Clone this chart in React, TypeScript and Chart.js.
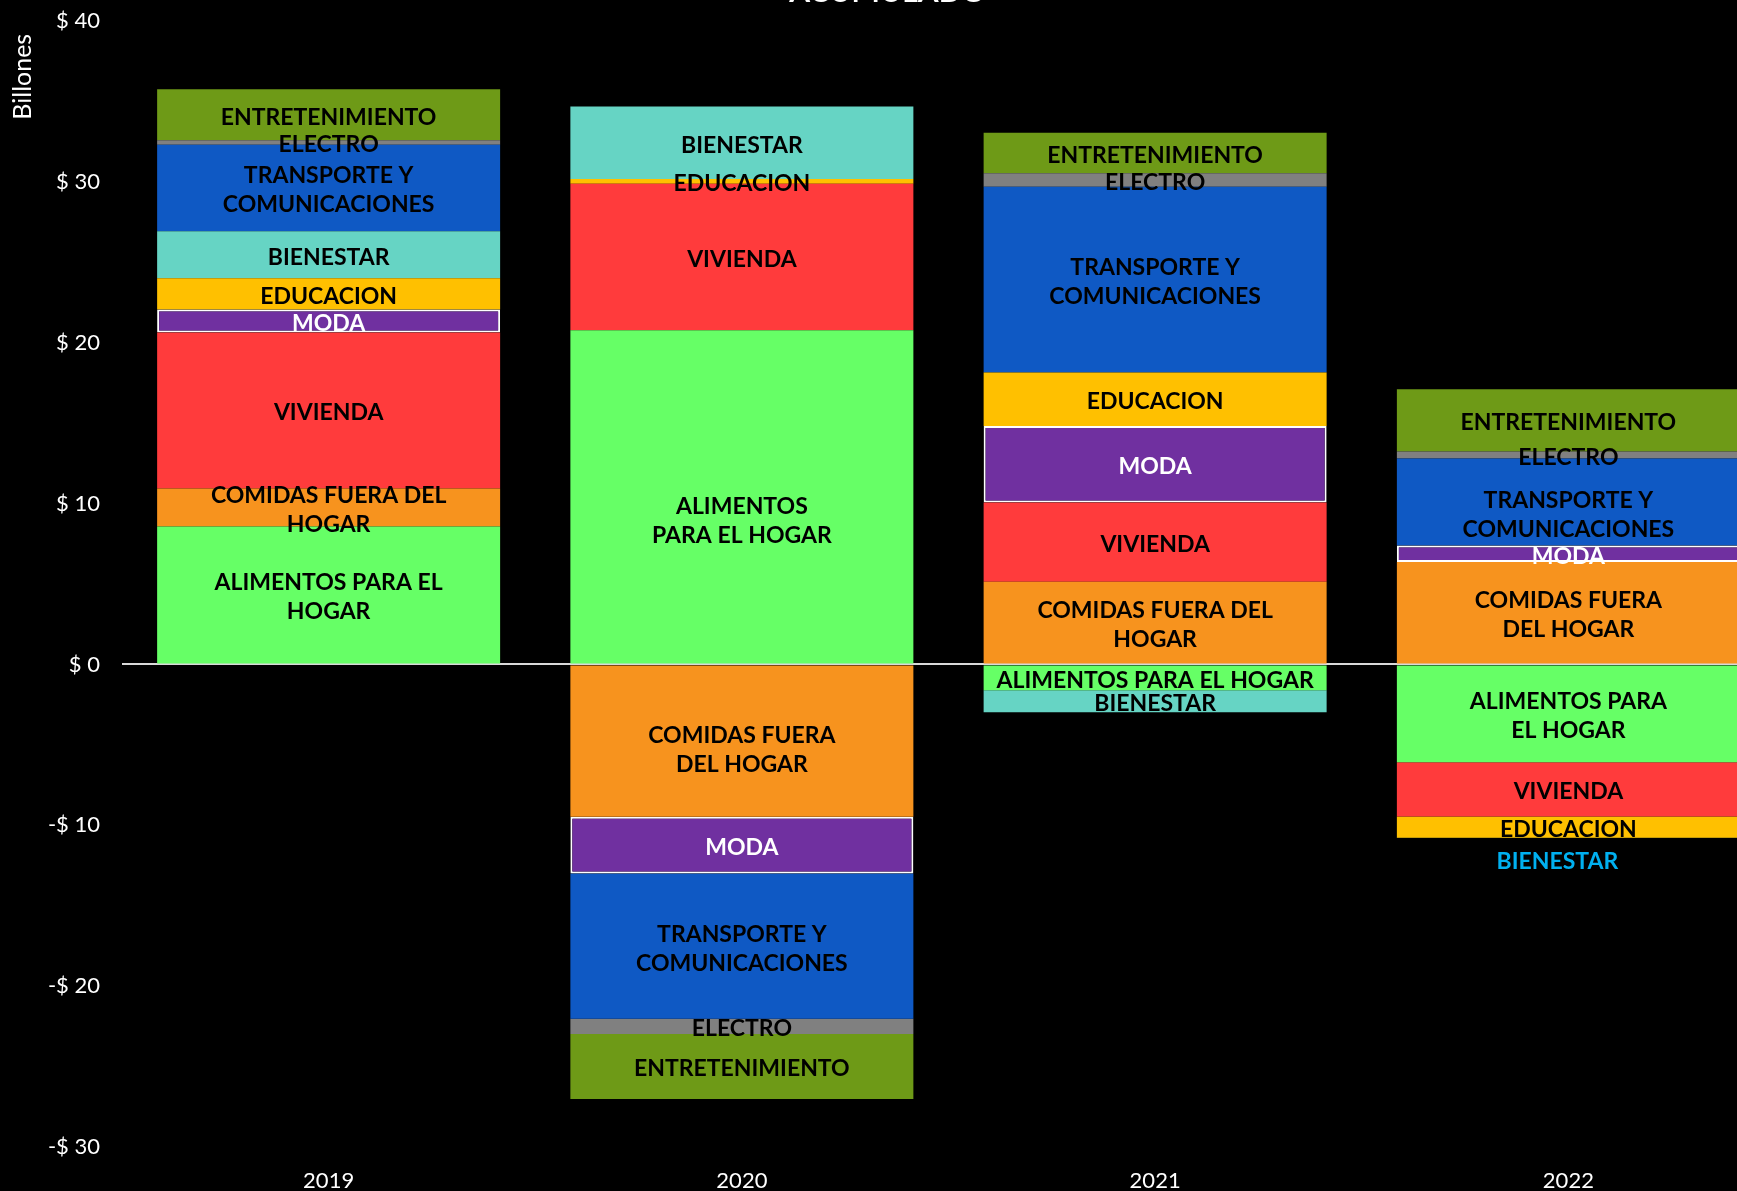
import { useEffect, useRef } from "react";
import { Chart, registerables } from "chart.js";
Chart.register(...registerables);

const YEARS = ["2019", "2020", "2021", "2022"];

const ALIMENTOS = [8.58, 20.78, -1.6, -6.08];
const COMIDAS = [2.35, -9.47, 5.14, 6.37];
const VIVIENDA = [9.71, 9.1, 4.92, -3.38];
const MODA = [1.43, -3.52, 4.76, 1.02];
const EDUCACION = [1.93, 0.3, 3.33, -1.31];
const BIENESTAR = [2.93, 4.5, -1.38, -0.02];
const TRANSPORTE = [5.37, -9.04, 11.55, 5.41];
const ELECTRO = [0.29, -0.95, 0.83, 0.43];
const ENTRETENIMIENTO = [3.16, -4.04, 2.52, 3.88];

const ALIMENTOS_LBL = [["ALIMENTOS PARA EL", "HOGAR"], ["ALIMENTOS", "PARA EL HOGAR"], ["ALIMENTOS PARA EL HOGAR"], ["ALIMENTOS PARA", "EL HOGAR"]];
const COMIDAS_LBL = [["COMIDAS FUERA DEL", "HOGAR"], ["COMIDAS FUERA", "DEL HOGAR"], ["COMIDAS FUERA DEL", "HOGAR"], ["COMIDAS FUERA", "DEL HOGAR"]];
const VIVIENDA_LBL = [["VIVIENDA"], ["VIVIENDA"], ["VIVIENDA"], ["VIVIENDA"]];
const MODA_LBL = [["MODA"], ["MODA"], ["MODA"], ["MODA"]];
const EDUCACION_LBL = [["EDUCACION"], ["EDUCACION"], ["EDUCACION"], ["EDUCACION"]];
const BIENESTAR_LBL = [["BIENESTAR"], ["BIENESTAR"], ["BIENESTAR"], ["BIENESTAR"]];
const TRANSPORTE_LBL = [["TRANSPORTE Y", "COMUNICACIONES"], ["TRANSPORTE Y", "COMUNICACIONES"], ["TRANSPORTE Y", "COMUNICACIONES"], ["TRANSPORTE Y", "COMUNICACIONES"]];
const ELECTRO_LBL = [["ELECTRO"], ["ELECTRO"], ["ELECTRO"], ["ELECTRO"]];
const ENTRETENIMIENTO_LBL = [["ENTRETENIMIENTO"], ["ENTRETENIMIENTO"], ["ENTRETENIMIENTO"], ["ENTRETENIMIENTO"]];
const BIENESTAR_OUTSIDE = [false, false, false, true];

const Y_TICKS_MIN = -30;
const Y_TICKS_MAX = 40;
const Y_STEP = 10;

const SERIES = [
  { name: "Alimentos para el hogar", data: ALIMENTOS, labels: ALIMENTOS_LBL, color: "#66FF66", text: "#000000" },
  { name: "Comidas fuera del hogar", data: COMIDAS, labels: COMIDAS_LBL, color: "#F7931E", text: "#000000" },
  { name: "Vivienda", data: VIVIENDA, labels: VIVIENDA_LBL, color: "#FF3B3C", text: "#000000" },
  { name: "Moda", data: MODA, labels: MODA_LBL, color: "#7030A0", text: "#FFFFFF", border: true },
  { name: "Educacion", data: EDUCACION, labels: EDUCACION_LBL, color: "#FFC000", text: "#000000" },
  { name: "Bienestar", data: BIENESTAR, labels: BIENESTAR_LBL, color: "#66D4C4", text: "#000000", outside: BIENESTAR_OUTSIDE },
  { name: "Transporte y comunicaciones", data: TRANSPORTE, labels: TRANSPORTE_LBL, color: "#0F59C4", text: "#000000" },
  { name: "Electro", data: ELECTRO, labels: ELECTRO_LBL, color: "#808080", text: "#000000" },
  { name: "Entretenimiento", data: ENTRETENIMIENTO, labels: ENTRETENIMIENTO_LBL, color: "#6E9A17", text: "#000000" },
];

// label placement tweaks (pixels), keyed by "datasetIndex|pointIndex"
const LABEL_NUDGE: Record<string, [number, number]> = {
  "0|1": [0, 22],
  "1|1": [0, 6],
  "6|3": [0, 11],
  "5|3": [-11, 0],
};

const CW = 1784;
const TOFF = 40;
const CH = 1191 + TOFF;
const LABEL_FONT = 23;
const LABEL_LINE = 29;
const LABEL_DY = 2.5;

const segLabels = {
  id: "segLabels",
  afterDatasetsDraw(chart: any) {
    const ctx = chart.ctx;
    ctx.save();
    ctx.font = `bold ${LABEL_FONT}px Lato`;
    ctx.textAlign = "center";
    ctx.textBaseline = "middle";
    SERIES.forEach((s: any, di: number) => {
      const meta = chart.getDatasetMeta(di);
      meta.data.forEach((el: any, i: number) => {
        const lines: string[] = s.labels[i];
        if (!lines || !lines.length) return;
        const { x, y, base } = el.getProps(["x", "y", "base"], true);
        let cy = (y + base) / 2 + LABEL_DY;
        let cx = x;
        let color = s.text;
        if (s.outside && s.outside[i]) {
          cy = Math.max(y, base) + 24;
          color = "#00B0F0";
        }
        const n = LABEL_NUDGE[`${di}|${i}`];
        if (n) {
          cx += n[0];
          cy += n[1];
        }
        ctx.fillStyle = color;
        const start = cy - ((lines.length - 1) * LABEL_LINE) / 2;
        lines.forEach((ln, k) => ctx.fillText(ln, cx, start + k * LABEL_LINE));
      });
    });
    ctx.restore();
  },
};

export default function App() {
  const ref = useRef<HTMLCanvasElement>(null);
  useEffect(() => {
    document.body.style.margin = "0";
    document.body.style.background = "#000";
    const canvas = ref.current!;
    const chart = new Chart(canvas, {
      type: "bar",
      data: {
        labels: YEARS,
        datasets: SERIES.map((s: any) => ({
          label: s.name,
          data: s.data,
          backgroundColor: s.color,
          borderColor: s.border ? "#FFFFFF" : s.color,
          borderWidth: s.border ? 2 : 0,
          borderSkipped: false,
          categoryPercentage: 1,
          barPercentage: 0.83,
        })),
      },
      options: {
        animation: false,
        responsive: false,
        devicePixelRatio: 1,
        layout: { padding: { top: 0, right: 9, left: 0, bottom: 0 } },
        plugins: {
          legend: { display: false },
          tooltip: { enabled: false },
          title: {
            display: true,
            text: "ACUMULADO",
            color: "#FFFFFF",
            font: { family: "Lato", size: 30, weight: "bold" },
            padding: { top: 14, bottom: 11 },
          },
        },
        scales: {
          x: {
            stacked: true,
            grid: { display: false },
            border: { display: false },
            ticks: { color: "#FFFFFF", font: { family: "Lato", size: 22 }, padding: 13 },
            afterFit: (s: any) => {
              s.height = 44;
            },
          },
          y: {
            stacked: true,
            min: Y_TICKS_MIN,
            max: Y_TICKS_MAX,
            border: { display: false },
            grid: {
              drawTicks: false,
              color: (c: any) => (c.tick && c.tick.value === 0 ? "#D9D9D9" : "rgba(0,0,0,0)"),
              lineWidth: 2,
            },
            ticks: {
              stepSize: Y_STEP,
              color: "#FFFFFF",
              font: { family: "Lato", size: 22 },
              padding: 22,
              callback: (v: any) => (v >= 0 ? `$ ${v}` : `-$ ${-v}`),
            },
            title: {
              display: true,
              text: "Billones  ",
              align: "end",
              color: "#FFFFFF",
              font: { family: "Lato", size: 25 },
              padding: { top: 8, bottom: 0 },
            },
            afterFit: (s: any) => {
              s.width = 122;
            },
          },
        },
      },
      plugins: [segLabels],
    } as any);
    return () => chart.destroy();
  }, []);
  return (
    <div style={{ position: "fixed", left: 0, top: 0, width: 1737, height: 1191, overflow: "hidden", background: "#000" }}>
      <canvas ref={ref} width={CW} height={CH} style={{ position: "absolute", left: 0, top: -TOFF, width: CW, height: CH }} />
    </div>
  );
}
